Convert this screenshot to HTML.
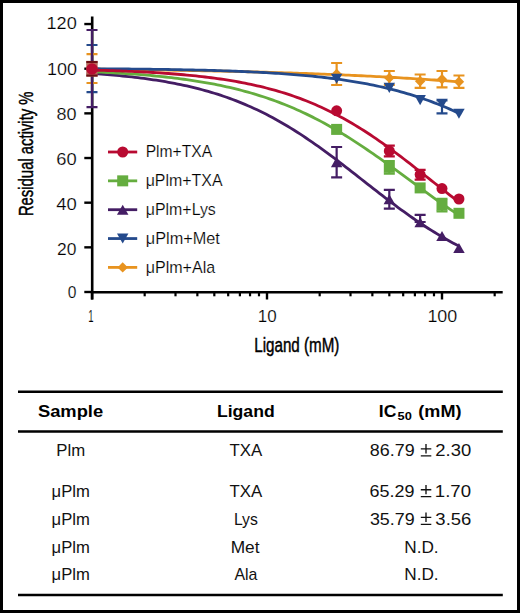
<!DOCTYPE html>
<html><head><meta charset="utf-8"><title>Residual activity</title>
<style>html,body{margin:0;padding:0;background:#fff;width:520px;height:613px;overflow:hidden}svg{display:block}</style>
</head><body>
<svg width="520" height="613" viewBox="0 0 520 613">
<rect x="0" y="0" width="520" height="613" fill="#fff"/>
<path d="M92.2,16.5 V299.5" stroke="#000" stroke-width="2.6" fill="none"/><path d="M90.9,292.2 H502.7" stroke="#000" stroke-width="2.6" fill="none"/><path d="M84.3,292.00 H92" stroke="#000" stroke-width="2.4"/><path d="M84.3,247.34 H92" stroke="#000" stroke-width="2.4"/><path d="M84.3,202.68 H92" stroke="#000" stroke-width="2.4"/><path d="M84.3,158.02 H92" stroke="#000" stroke-width="2.4"/><path d="M84.3,113.36 H92" stroke="#000" stroke-width="2.4"/><path d="M84.3,68.70 H92" stroke="#000" stroke-width="2.4"/><path d="M84.3,24.04 H92" stroke="#000" stroke-width="2.4"/><path d="M92.00,292 V299.5" stroke="#000" stroke-width="2.4"/><path d="M144.68,292 V296.3" stroke="#000" stroke-width="2.2"/><path d="M175.50,292 V296.3" stroke="#000" stroke-width="2.2"/><path d="M197.36,292 V296.3" stroke="#000" stroke-width="2.2"/><path d="M214.32,292 V296.3" stroke="#000" stroke-width="2.2"/><path d="M228.18,292 V296.3" stroke="#000" stroke-width="2.2"/><path d="M239.89,292 V296.3" stroke="#000" stroke-width="2.2"/><path d="M250.04,292 V296.3" stroke="#000" stroke-width="2.2"/><path d="M258.99,292 V296.3" stroke="#000" stroke-width="2.2"/><path d="M267.00,292 V299.5" stroke="#000" stroke-width="2.4"/><path d="M319.68,292 V296.3" stroke="#000" stroke-width="2.2"/><path d="M350.50,292 V296.3" stroke="#000" stroke-width="2.2"/><path d="M372.36,292 V296.3" stroke="#000" stroke-width="2.2"/><path d="M389.32,292 V296.3" stroke="#000" stroke-width="2.2"/><path d="M403.18,292 V296.3" stroke="#000" stroke-width="2.2"/><path d="M414.89,292 V296.3" stroke="#000" stroke-width="2.2"/><path d="M425.04,292 V296.3" stroke="#000" stroke-width="2.2"/><path d="M433.99,292 V296.3" stroke="#000" stroke-width="2.2"/><path d="M442.00,292 V299.5" stroke="#000" stroke-width="2.4"/><path d="M494.68,292 V296.3" stroke="#000" stroke-width="2.2"/>
<path d="M92.00,69.12 L95.06,69.16 L98.12,69.19 L101.17,69.22 L104.23,69.26 L107.29,69.29 L110.35,69.33 L113.41,69.36 L116.46,69.40 L119.52,69.44 L122.58,69.48 L125.64,69.52 L128.70,69.56 L131.75,69.60 L134.81,69.64 L137.87,69.68 L140.93,69.72 L143.99,69.76 L147.04,69.81 L150.10,69.85 L153.16,69.90 L156.22,69.94 L159.28,69.99 L162.33,70.04 L165.39,70.09 L168.45,70.14 L171.51,70.19 L174.57,70.24 L177.62,70.29 L180.68,70.34 L183.74,70.40 L186.80,70.45 L189.86,70.51 L192.91,70.56 L195.97,70.62 L199.03,70.68 L202.09,70.74 L205.15,70.80 L208.20,70.86 L211.26,70.92 L214.32,70.99 L217.38,71.05 L220.44,71.12 L223.49,71.19 L226.55,71.26 L229.61,71.33 L232.67,71.40 L235.73,71.47 L238.78,71.54 L241.84,71.62 L244.90,71.69 L247.96,71.77 L251.02,71.85 L254.07,71.93 L257.13,72.01 L260.19,72.09 L263.25,72.18 L266.31,72.26 L269.36,72.35 L272.42,72.44 L275.48,72.53 L278.54,72.62 L281.60,72.71 L284.65,72.81 L287.71,72.90 L290.77,73.00 L293.83,73.10 L296.89,73.20 L299.94,73.31 L303.00,73.41 L306.06,73.52 L309.12,73.62 L312.18,73.74 L315.23,73.85 L318.29,73.96 L321.35,74.08 L324.41,74.19 L327.47,74.31 L330.52,74.44 L333.58,74.56 L336.64,74.69 L339.70,74.81 L342.76,74.94 L345.81,75.08 L348.87,75.21 L351.93,75.35 L354.99,75.49 L358.05,75.63 L361.10,75.77 L364.16,75.92 L367.22,76.07 L370.28,76.22 L373.34,76.37 L376.39,76.53 L379.45,76.69 L382.51,76.85 L385.57,77.01 L388.63,77.18 L391.68,77.35 L394.74,77.52 L397.80,77.69 L400.86,77.87 L403.92,78.05 L406.97,78.23 L410.03,78.42 L413.09,78.61 L416.15,78.80 L419.21,79.00 L422.26,79.20 L425.32,79.40 L428.38,79.60 L431.44,79.81 L434.50,80.02 L437.55,80.24 L440.61,80.46 L443.67,80.68 L446.73,80.90 L449.79,81.13 L452.84,81.37 L455.90,81.60 L458.96,81.84" fill="none" stroke="#E8931F" stroke-width="2.8" stroke-linejoin="round"/><path d="M92.00,54.20 V83.00 M86.50,54.20 H97.50 M86.50,83.00 H97.50" stroke="#E8931F" stroke-width="2.2" fill="none"/><path d="M92.00,63.30 L97.20,68.50 L92.00,73.70 L86.80,68.50 Z" fill="#E8931F"/><path d="M336.64,63.00 V85.00 M331.14,63.00 H342.14 M331.14,85.00 H342.14" stroke="#E8931F" stroke-width="2.2" fill="none"/><path d="M336.64,68.80 L341.84,74.00 L336.64,79.20 L331.44,74.00 Z" fill="#E8931F"/><path d="M389.32,71.00 V85.00 M383.82,71.00 H394.82 M383.82,85.00 H394.82" stroke="#E8931F" stroke-width="2.2" fill="none"/><path d="M389.32,72.70 L394.52,77.90 L389.32,83.10 L384.12,77.90 Z" fill="#E8931F"/><path d="M420.14,74.50 V87.90 M414.64,74.50 H425.64 M414.64,87.90 H425.64" stroke="#E8931F" stroke-width="2.2" fill="none"/><path d="M420.14,76.00 L425.34,81.20 L420.14,86.40 L414.94,81.20 Z" fill="#E8931F"/><path d="M442.00,71.00 V87.40 M436.50,71.00 H447.50 M436.50,87.40 H447.50" stroke="#E8931F" stroke-width="2.2" fill="none"/><path d="M442.00,74.00 L447.20,79.20 L442.00,84.40 L436.80,79.20 Z" fill="#E8931F"/><path d="M458.96,75.50 V87.90 M453.46,75.50 H464.46 M453.46,87.90 H464.46" stroke="#E8931F" stroke-width="2.2" fill="none"/><path d="M458.96,76.50 L464.16,81.70 L458.96,86.90 L453.76,81.70 Z" fill="#E8931F"/><path d="M92.00,68.73 L95.06,68.75 L98.12,68.77 L101.17,68.79 L104.23,68.81 L107.29,68.83 L110.35,68.85 L113.41,68.88 L116.46,68.90 L119.52,68.93 L122.58,68.95 L125.64,68.98 L128.70,69.01 L131.75,69.04 L134.81,69.07 L137.87,69.11 L140.93,69.14 L143.99,69.17 L147.04,69.21 L150.10,69.25 L153.16,69.29 L156.22,69.33 L159.28,69.37 L162.33,69.42 L165.39,69.46 L168.45,69.51 L171.51,69.56 L174.57,69.62 L177.62,69.67 L180.68,69.73 L183.74,69.79 L186.80,69.85 L189.86,69.91 L192.91,69.98 L195.97,70.05 L199.03,70.12 L202.09,70.19 L205.15,70.27 L208.20,70.35 L211.26,70.44 L214.32,70.52 L217.38,70.62 L220.44,70.71 L223.49,70.81 L226.55,70.91 L229.61,71.02 L232.67,71.13 L235.73,71.24 L238.78,71.36 L241.84,71.49 L244.90,71.62 L247.96,71.75 L251.02,71.89 L254.07,72.04 L257.13,72.19 L260.19,72.35 L263.25,72.51 L266.31,72.68 L269.36,72.86 L272.42,73.04 L275.48,73.23 L278.54,73.43 L281.60,73.64 L284.65,73.85 L287.71,74.07 L290.77,74.30 L293.83,74.54 L296.89,74.79 L299.94,75.05 L303.00,75.32 L306.06,75.60 L309.12,75.89 L312.18,76.19 L315.23,76.50 L318.29,76.83 L321.35,77.16 L324.41,77.51 L327.47,77.87 L330.52,78.25 L333.58,78.64 L336.64,79.04 L339.70,79.46 L342.76,79.90 L345.81,80.35 L348.87,80.81 L351.93,81.30 L354.99,81.80 L358.05,82.32 L361.10,82.85 L364.16,83.41 L367.22,83.99 L370.28,84.58 L373.34,85.20 L376.39,85.84 L379.45,86.50 L382.51,87.19 L385.57,87.89 L388.63,88.62 L391.68,89.38 L394.74,90.16 L397.80,90.96 L400.86,91.79 L403.92,92.65 L406.97,93.54 L410.03,94.45 L413.09,95.39 L416.15,96.36 L419.21,97.36 L422.26,98.40 L425.32,99.46 L428.38,100.55 L431.44,101.67 L434.50,102.83 L437.55,104.02 L440.61,105.24 L443.67,106.50 L446.73,107.79 L449.79,109.11 L452.84,110.47 L455.90,111.86 L458.96,113.28" fill="none" stroke="#244A8C" stroke-width="2.8" stroke-linejoin="round"/><path d="M92.00,45.00 V92.20 M86.50,45.00 H97.50 M86.50,92.20 H97.50" stroke="#244A8C" stroke-width="2.2" fill="none"/><path d="M86.28,63.44 L97.72,63.44 L92.00,73.56 Z" fill="#244A8C"/><path d="M330.92,73.74 L342.36,73.74 L336.64,83.86 Z" fill="#244A8C"/><path d="M383.60,82.84 L395.04,82.84 L389.32,92.96 Z" fill="#244A8C"/><path d="M414.42,95.04 L425.86,95.04 L420.14,105.16 Z" fill="#244A8C"/><path d="M442.00,100.50 V113.30 M436.50,100.50 H447.50 M436.50,113.30 H447.50" stroke="#244A8C" stroke-width="2.2" fill="none"/><path d="M436.28,98.74 L447.72,98.74 L442.00,108.86 Z" fill="#244A8C"/><path d="M453.24,108.74 L464.68,108.74 L458.96,118.86 Z" fill="#244A8C"/><path d="M92.00,73.49 L95.06,73.70 L98.12,73.92 L101.17,74.14 L104.23,74.38 L107.29,74.62 L110.35,74.88 L113.41,75.14 L116.46,75.42 L119.52,75.71 L122.58,76.01 L125.64,76.32 L128.70,76.65 L131.75,76.98 L134.81,77.34 L137.87,77.70 L140.93,78.08 L143.99,78.48 L147.04,78.89 L150.10,79.32 L153.16,79.77 L156.22,80.23 L159.28,80.71 L162.33,81.21 L165.39,81.73 L168.45,82.27 L171.51,82.83 L174.57,83.41 L177.62,84.02 L180.68,84.64 L183.74,85.29 L186.80,85.97 L189.86,86.67 L192.91,87.39 L195.97,88.15 L199.03,88.93 L202.09,89.73 L205.15,90.57 L208.20,91.43 L211.26,92.33 L214.32,93.26 L217.38,94.21 L220.44,95.20 L223.49,96.23 L226.55,97.28 L229.61,98.37 L232.67,99.50 L235.73,100.66 L238.78,101.86 L241.84,103.09 L244.90,104.37 L247.96,105.68 L251.02,107.02 L254.07,108.41 L257.13,109.84 L260.19,111.30 L263.25,112.80 L266.31,114.35 L269.36,115.93 L272.42,117.56 L275.48,119.22 L278.54,120.92 L281.60,122.66 L284.65,124.44 L287.71,126.27 L290.77,128.12 L293.83,130.02 L296.89,131.95 L299.94,133.92 L303.00,135.93 L306.06,137.97 L309.12,140.04 L312.18,142.15 L315.23,144.28 L318.29,146.45 L321.35,148.64 L324.41,150.87 L327.47,153.11 L330.52,155.39 L333.58,157.68 L336.64,159.99 L339.70,162.32 L342.76,164.67 L345.81,167.03 L348.87,169.41 L351.93,171.79 L354.99,174.18 L358.05,176.58 L361.10,178.98 L364.16,181.38 L367.22,183.78 L370.28,186.18 L373.34,188.58 L376.39,190.96 L379.45,193.34 L382.51,195.70 L385.57,198.05 L388.63,200.38 L391.68,202.70 L394.74,204.99 L397.80,207.27 L400.86,209.52 L403.92,211.74 L406.97,213.94 L410.03,216.11 L413.09,218.25 L416.15,220.36 L419.21,222.44 L422.26,224.48 L425.32,226.49 L428.38,228.47 L431.44,230.40 L434.50,232.30 L437.55,234.17 L440.61,235.99 L443.67,237.78 L446.73,239.53 L449.79,241.23 L452.84,242.90 L455.90,244.53 L458.96,246.12" fill="none" stroke="#441D64" stroke-width="2.8" stroke-linejoin="round"/><path d="M92.00,30.00 V107.20 M86.50,30.00 H97.50 M86.50,107.20 H97.50" stroke="#441D64" stroke-width="2.2" fill="none"/><path d="M92.00,63.44 L97.72,73.56 L86.28,73.56 Z" fill="#441D64"/><path d="M336.64,147.00 V177.30 M331.14,147.00 H342.14 M331.14,177.30 H342.14" stroke="#441D64" stroke-width="2.2" fill="none"/><path d="M336.64,157.04 L342.36,167.16 L330.92,167.16 Z" fill="#441D64"/><path d="M389.32,189.90 V208.60 M383.82,189.90 H394.82 M383.82,208.60 H394.82" stroke="#441D64" stroke-width="2.2" fill="none"/><path d="M389.32,194.14 L395.04,204.26 L383.60,204.26 Z" fill="#441D64"/><path d="M420.14,214.80 V222.00 M414.64,214.80 H425.64 M414.64,222.00 H425.64" stroke="#441D64" stroke-width="2.2" fill="none"/><path d="M420.14,217.14 L425.86,227.26 L414.42,227.26 Z" fill="#441D64"/><path d="M442.00,230.94 L447.72,241.06 L436.28,241.06 Z" fill="#441D64"/><path d="M458.96,242.94 L464.68,253.06 L453.24,253.06 Z" fill="#441D64"/><path d="M92.00,71.74 L95.06,71.88 L98.12,72.02 L101.17,72.17 L104.23,72.32 L107.29,72.48 L110.35,72.64 L113.41,72.82 L116.46,72.99 L119.52,73.18 L122.58,73.37 L125.64,73.57 L128.70,73.78 L131.75,74.00 L134.81,74.22 L137.87,74.45 L140.93,74.70 L143.99,74.95 L147.04,75.21 L150.10,75.48 L153.16,75.76 L156.22,76.06 L159.28,76.36 L162.33,76.67 L165.39,77.00 L168.45,77.34 L171.51,77.69 L174.57,78.06 L177.62,78.44 L180.68,78.83 L183.74,79.24 L186.80,79.67 L189.86,80.11 L192.91,80.56 L195.97,81.03 L199.03,81.52 L202.09,82.03 L205.15,82.55 L208.20,83.10 L211.26,83.66 L214.32,84.24 L217.38,84.85 L220.44,85.47 L223.49,86.12 L226.55,86.79 L229.61,87.48 L232.67,88.19 L235.73,88.93 L238.78,89.70 L241.84,90.49 L244.90,91.30 L247.96,92.14 L251.02,93.01 L254.07,93.91 L257.13,94.83 L260.19,95.79 L263.25,96.77 L266.31,97.78 L269.36,98.83 L272.42,99.90 L275.48,101.01 L278.54,102.14 L281.60,103.32 L284.65,104.52 L287.71,105.76 L290.77,107.03 L293.83,108.33 L296.89,109.67 L299.94,111.04 L303.00,112.45 L306.06,113.89 L309.12,115.37 L312.18,116.88 L315.23,118.43 L318.29,120.01 L321.35,121.62 L324.41,123.27 L327.47,124.96 L330.52,126.68 L333.58,128.43 L336.64,130.22 L339.70,132.03 L342.76,133.88 L345.81,135.76 L348.87,137.67 L351.93,139.61 L354.99,141.58 L358.05,143.58 L361.10,145.60 L364.16,147.65 L367.22,149.72 L370.28,151.82 L373.34,153.94 L376.39,156.07 L379.45,158.23 L382.51,160.40 L385.57,162.59 L388.63,164.79 L391.68,167.01 L394.74,169.23 L397.80,171.47 L400.86,173.71 L403.92,175.95 L406.97,178.20 L410.03,180.45 L413.09,182.70 L416.15,184.95 L419.21,187.20 L422.26,189.44 L425.32,191.67 L428.38,193.89 L431.44,196.10 L434.50,198.30 L437.55,200.49 L440.61,202.66 L443.67,204.81 L446.73,206.94 L449.79,209.05 L452.84,211.14 L455.90,213.21 L458.96,215.25" fill="none" stroke="#65AD3F" stroke-width="2.8" stroke-linejoin="round"/><rect x="331.14" y="123.90" width="11" height="11" fill="#65AD3F"/><path d="M389.32,161.00 V173.70 M383.82,161.00 H394.82 M383.82,173.70 H394.82" stroke="#65AD3F" stroke-width="2.2" fill="none"/><rect x="383.82" y="161.80" width="11" height="11" fill="#65AD3F"/><rect x="414.64" y="182.40" width="11" height="11" fill="#65AD3F"/><path d="M442.00,198.80 V211.40 M436.50,198.80 H447.50 M436.50,211.40 H447.50" stroke="#65AD3F" stroke-width="2.2" fill="none"/><rect x="436.50" y="199.60" width="11" height="11" fill="#65AD3F"/><rect x="453.46" y="207.80" width="11" height="11" fill="#65AD3F"/><rect x="86.3" y="61" width="11.3" height="15.6" fill="#B86A58"/><rect x="86.3" y="60.9" width="11.3" height="2.1" fill="#6A0F14"/><rect x="86.3" y="74.5" width="11.3" height="2.1" fill="#6A0F14"/><path d="M92.00,70.06 L95.06,70.14 L98.12,70.23 L101.17,70.31 L104.23,70.40 L107.29,70.50 L110.35,70.60 L113.41,70.70 L116.46,70.81 L119.52,70.92 L122.58,71.03 L125.64,71.16 L128.70,71.28 L131.75,71.41 L134.81,71.55 L137.87,71.70 L140.93,71.85 L143.99,72.00 L147.04,72.17 L150.10,72.34 L153.16,72.52 L156.22,72.70 L159.28,72.89 L162.33,73.10 L165.39,73.31 L168.45,73.52 L171.51,73.75 L174.57,73.99 L177.62,74.24 L180.68,74.50 L183.74,74.76 L186.80,75.04 L189.86,75.34 L192.91,75.64 L195.97,75.96 L199.03,76.29 L202.09,76.63 L205.15,76.99 L208.20,77.36 L211.26,77.74 L214.32,78.15 L217.38,78.57 L220.44,79.00 L223.49,79.45 L226.55,79.92 L229.61,80.41 L232.67,80.92 L235.73,81.45 L238.78,82.00 L241.84,82.57 L244.90,83.16 L247.96,83.78 L251.02,84.42 L254.07,85.08 L257.13,85.77 L260.19,86.48 L263.25,87.22 L266.31,87.99 L269.36,88.79 L272.42,89.61 L275.48,90.46 L278.54,91.35 L281.60,92.26 L284.65,93.21 L287.71,94.19 L290.77,95.20 L293.83,96.24 L296.89,97.33 L299.94,98.44 L303.00,99.59 L306.06,100.78 L309.12,102.01 L312.18,103.27 L315.23,104.57 L318.29,105.91 L321.35,107.29 L324.41,108.71 L327.47,110.16 L330.52,111.66 L333.58,113.20 L336.64,114.78 L339.70,116.40 L342.76,118.06 L345.81,119.76 L348.87,121.50 L351.93,123.28 L354.99,125.11 L358.05,126.97 L361.10,128.86 L364.16,130.80 L367.22,132.78 L370.28,134.79 L373.34,136.83 L376.39,138.91 L379.45,141.03 L382.51,143.18 L385.57,145.35 L388.63,147.56 L391.68,149.80 L394.74,152.06 L397.80,154.35 L400.86,156.66 L403.92,158.99 L406.97,161.34 L410.03,163.71 L413.09,166.09 L416.15,168.49 L419.21,170.89 L422.26,173.31 L425.32,175.73 L428.38,178.15 L431.44,180.58 L434.50,183.01 L437.55,185.43 L440.61,187.85 L443.67,190.27 L446.73,192.67 L449.79,195.06 L452.84,197.44 L455.90,199.80 L458.96,202.14" fill="none" stroke="#B80A31" stroke-width="2.8" stroke-linejoin="round"/><circle cx="92.00" cy="69.00" r="5.80" fill="#B80A31"/><circle cx="336.64" cy="110.80" r="5.50" fill="#B80A31"/><path d="M389.32,145.60 V156.40 M383.82,145.60 H394.82 M383.82,156.40 H394.82" stroke="#B80A31" stroke-width="2.2" fill="none"/><circle cx="389.32" cy="151.00" r="5.50" fill="#B80A31"/><path d="M420.14,169.80 V179.60 M414.64,169.80 H425.64 M414.64,179.60 H425.64" stroke="#B80A31" stroke-width="2.2" fill="none"/><circle cx="420.14" cy="174.60" r="5.50" fill="#B80A31"/><circle cx="442.00" cy="188.60" r="5.50" fill="#B80A31"/><circle cx="458.96" cy="199.00" r="5.50" fill="#B80A31"/>
<path d="M108,152.00 H137.2" stroke="#B80A31" stroke-width="2.8"/><circle cx="122.70" cy="152.00" r="5.50" fill="#B80A31"/><path d="M108,180.85 H137.2" stroke="#65AD3F" stroke-width="2.8"/><rect x="117.20" y="175.35" width="11" height="11" fill="#65AD3F"/><path d="M108,209.70 H137.2" stroke="#441D64" stroke-width="2.8"/><path d="M122.70,204.64 L128.42,214.76 L116.98,214.76 Z" fill="#441D64"/><path d="M108,238.55 H137.2" stroke="#244A8C" stroke-width="2.8"/><path d="M116.98,233.49 L128.42,233.49 L122.70,243.61 Z" fill="#244A8C"/><path d="M108,267.40 H137.2" stroke="#E8931F" stroke-width="2.8"/><path d="M122.70,262.20 L127.90,267.40 L122.70,272.60 L117.50,267.40 Z" fill="#E8931F"/>
<text x="67.72" y="297.90" font-family="Liberation Sans, sans-serif" font-size="17" font-weight="normal" fill="#000" stroke="#fff" stroke-width="0.2" textLength="8.67" lengthAdjust="spacingAndGlyphs">0</text><text x="56.99" y="254.90" font-family="Liberation Sans, sans-serif" font-size="17" font-weight="normal" fill="#000" stroke="#fff" stroke-width="0.2" textLength="19.40" lengthAdjust="spacingAndGlyphs">20</text><text x="56.16" y="210.00" font-family="Liberation Sans, sans-serif" font-size="17" font-weight="normal" fill="#000" stroke="#fff" stroke-width="0.2" textLength="20.54" lengthAdjust="spacingAndGlyphs">40</text><text x="56.23" y="165.00" font-family="Liberation Sans, sans-serif" font-size="17" font-weight="normal" fill="#000" stroke="#fff" stroke-width="0.2" textLength="20.42" lengthAdjust="spacingAndGlyphs">60</text><text x="56.49" y="120.40" font-family="Liberation Sans, sans-serif" font-size="17" font-weight="normal" fill="#000" stroke="#fff" stroke-width="0.2" textLength="20.03" lengthAdjust="spacingAndGlyphs">80</text><text x="46.93" y="75.20" font-family="Liberation Sans, sans-serif" font-size="17" font-weight="normal" fill="#000" stroke="#fff" stroke-width="0.2" textLength="30.00" lengthAdjust="spacingAndGlyphs">100</text><text x="46.52" y="29.20" font-family="Liberation Sans, sans-serif" font-size="17" font-weight="normal" fill="#000" stroke="#fff" stroke-width="0.2" textLength="30.30" lengthAdjust="spacingAndGlyphs">120</text><text x="88.29" y="322.00" font-family="Liberation Sans, sans-serif" font-size="16.8" font-weight="normal" fill="#000" stroke="#fff" stroke-width="0.2" textLength="5.32" lengthAdjust="spacingAndGlyphs">1</text><text x="257.70" y="322.00" font-family="Liberation Sans, sans-serif" font-size="16.8" font-weight="normal" fill="#000" stroke="#fff" stroke-width="0.2" textLength="18.91" lengthAdjust="spacingAndGlyphs">10</text><text x="427.42" y="322.00" font-family="Liberation Sans, sans-serif" font-size="16.8" font-weight="normal" fill="#000" stroke="#fff" stroke-width="0.2" textLength="29.90" lengthAdjust="spacingAndGlyphs">100</text><text x="254.24" y="351.70" font-family="Liberation Sans, sans-serif" font-size="20" font-weight="normal" fill="#000" stroke="#000" stroke-width="0.45" textLength="85.17" lengthAdjust="spacingAndGlyphs">Ligand (mM)</text><text x="145.68" y="157.10" font-family="Liberation Sans, sans-serif" font-size="17" font-weight="normal" fill="#000" stroke="#fff" stroke-width="0.2" textLength="66.54" lengthAdjust="spacingAndGlyphs">Plm+TXA</text><text x="145.70" y="186.00" font-family="Liberation Sans, sans-serif" font-size="17" font-weight="normal" fill="#000" stroke="#fff" stroke-width="0.2" textLength="76.84" lengthAdjust="spacingAndGlyphs">μPlm+TXA</text><text x="145.81" y="214.90" font-family="Liberation Sans, sans-serif" font-size="17" font-weight="normal" fill="#000" stroke="#fff" stroke-width="0.2" textLength="70.00" lengthAdjust="spacingAndGlyphs">μPlm+Lys</text><text x="145.84" y="243.80" font-family="Liberation Sans, sans-serif" font-size="17" font-weight="normal" fill="#000" stroke="#fff" stroke-width="0.2" textLength="74.04" lengthAdjust="spacingAndGlyphs">μPlm+Met</text><text x="145.68" y="272.70" font-family="Liberation Sans, sans-serif" font-size="17" font-weight="normal" fill="#000" stroke="#fff" stroke-width="0.2" textLength="69.49" lengthAdjust="spacingAndGlyphs">μPlm+Ala</text><text x="37.95" y="416.50" font-family="Liberation Sans, sans-serif" font-size="15.8" font-weight="bold" fill="#000" textLength="65.22" lengthAdjust="spacingAndGlyphs">Sample</text><text x="216.96" y="416.60" font-family="Liberation Sans, sans-serif" font-size="15.8" font-weight="bold" fill="#000" textLength="57.71" lengthAdjust="spacingAndGlyphs">Ligand</text><text x="378.80" y="416.50" font-family="Liberation Sans, sans-serif" font-size="15.8" font-weight="bold" fill="#000" textLength="17.58" lengthAdjust="spacingAndGlyphs">IC</text><text x="397.54" y="419.50" font-family="Liberation Sans, sans-serif" font-size="11.8" font-weight="bold" fill="#000" textLength="14.24" lengthAdjust="spacingAndGlyphs">50</text><text x="418.34" y="416.50" font-family="Liberation Sans, sans-serif" font-size="15.8" font-weight="bold" fill="#000" textLength="43.11" lengthAdjust="spacingAndGlyphs">(mM)</text><text x="56.25" y="456.40" font-family="Liberation Sans, sans-serif" font-size="16.6" font-weight="normal" fill="#111" textLength="28.84" lengthAdjust="spacingAndGlyphs">Plm</text><text x="229.40" y="456.40" font-family="Liberation Sans, sans-serif" font-size="16.6" font-weight="normal" fill="#111" textLength="32.80" lengthAdjust="spacingAndGlyphs">TXA</text><text x="369.85" y="456.40" font-family="Liberation Sans, sans-serif" font-size="16.6" font-weight="normal" fill="#111" textLength="44.78" lengthAdjust="spacingAndGlyphs">86.79</text><text x="435.31" y="456.40" font-family="Liberation Sans, sans-serif" font-size="16.6" font-weight="normal" fill="#111" textLength="35.86" lengthAdjust="spacingAndGlyphs">2.30</text><text x="51.63" y="497.20" font-family="Liberation Sans, sans-serif" font-size="16.6" font-weight="normal" fill="#111" textLength="38.22" lengthAdjust="spacingAndGlyphs">μPlm</text><text x="229.40" y="497.20" font-family="Liberation Sans, sans-serif" font-size="16.6" font-weight="normal" fill="#111" textLength="32.80" lengthAdjust="spacingAndGlyphs">TXA</text><text x="369.63" y="497.20" font-family="Liberation Sans, sans-serif" font-size="16.6" font-weight="normal" fill="#111" textLength="44.95" lengthAdjust="spacingAndGlyphs">65.29</text><text x="434.85" y="497.20" font-family="Liberation Sans, sans-serif" font-size="16.6" font-weight="normal" fill="#111" textLength="36.19" lengthAdjust="spacingAndGlyphs">1.70</text><text x="51.63" y="524.90" font-family="Liberation Sans, sans-serif" font-size="16.6" font-weight="normal" fill="#111" textLength="38.22" lengthAdjust="spacingAndGlyphs">μPlm</text><text x="233.90" y="524.90" font-family="Liberation Sans, sans-serif" font-size="16.6" font-weight="normal" fill="#111" textLength="23.93" lengthAdjust="spacingAndGlyphs">Lys</text><text x="369.94" y="524.90" font-family="Liberation Sans, sans-serif" font-size="16.6" font-weight="normal" fill="#111" textLength="44.72" lengthAdjust="spacingAndGlyphs">35.79</text><text x="435.37" y="524.90" font-family="Liberation Sans, sans-serif" font-size="16.6" font-weight="normal" fill="#111" textLength="35.96" lengthAdjust="spacingAndGlyphs">3.56</text><text x="51.63" y="552.70" font-family="Liberation Sans, sans-serif" font-size="16.6" font-weight="normal" fill="#111" textLength="38.22" lengthAdjust="spacingAndGlyphs">μPlm</text><text x="230.67" y="552.70" font-family="Liberation Sans, sans-serif" font-size="16.6" font-weight="normal" fill="#111" textLength="28.84" lengthAdjust="spacingAndGlyphs">Met</text><text x="404.21" y="552.70" font-family="Liberation Sans, sans-serif" font-size="16.6" font-weight="normal" fill="#111" textLength="34.41" lengthAdjust="spacingAndGlyphs">N.D.</text><text x="51.63" y="579.80" font-family="Liberation Sans, sans-serif" font-size="16.6" font-weight="normal" fill="#111" textLength="38.22" lengthAdjust="spacingAndGlyphs">μPlm</text><text x="234.40" y="579.80" font-family="Liberation Sans, sans-serif" font-size="16.6" font-weight="normal" fill="#111" textLength="22.97" lengthAdjust="spacingAndGlyphs">Ala</text><text x="404.21" y="579.80" font-family="Liberation Sans, sans-serif" font-size="16.6" font-weight="normal" fill="#111" textLength="34.41" lengthAdjust="spacingAndGlyphs">N.D.</text><text transform="translate(33.3,216.12) rotate(-90)" x="0" y="0" font-family="Liberation Sans, sans-serif" font-size="20" fill="#000" stroke="#000" stroke-width="0.45" textLength="124.68" lengthAdjust="spacingAndGlyphs">Residual activity %</text>
<path d="M18,391.7 H502.8 M18,431.5 H502.8 M18,595 H502.8" stroke="#000" stroke-width="2.6"/><path d="M426.0,444.10 V453.50 M420.8,448.90 H431.3 M420.8,455.80 H431.3" stroke="#111" stroke-width="1.35" fill="none"/><path d="M426.0,484.90 V494.30 M420.8,489.70 H431.3 M420.8,496.60 H431.3" stroke="#111" stroke-width="1.35" fill="none"/><path d="M426.0,512.60 V522.00 M420.8,517.40 H431.3 M420.8,524.30 H431.3" stroke="#111" stroke-width="1.35" fill="none"/>
<rect x="1.5" y="1.5" width="517" height="610" fill="none" stroke="#000" stroke-width="3"/>
</svg>
</body></html>
